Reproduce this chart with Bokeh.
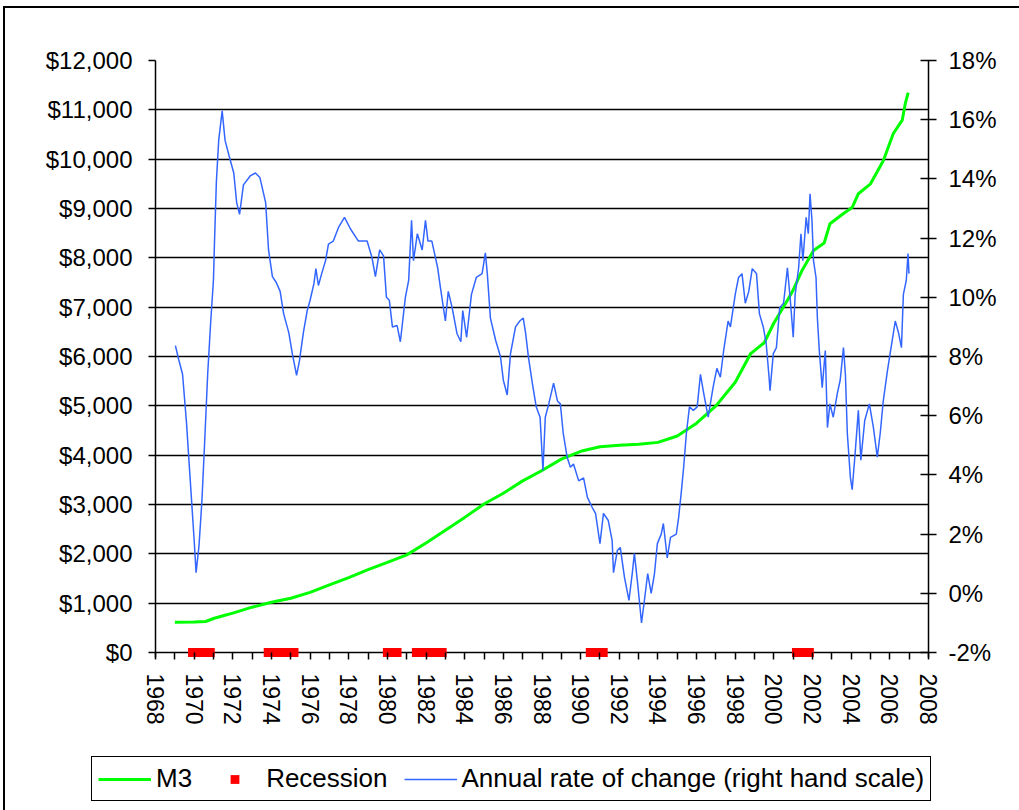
from bokeh.plotting import figure
from bokeh.layouts import column
from bokeh.models import (Range1d, LinearAxis, FixedTicker, NumeralTickFormatter,
                          PrintfTickFormatter, Legend, LegendItem)
from bokeh.embed import file_html
from bokeh.resources import INLINE

# ---------------- data ----------------
m3_year = [1969.0, 1970.0, 1970.6, 1971.0, 1971.5, 1972.0, 1973.0, 1974.0, 1975.0,
           1976.0, 1977.0, 1978.0, 1979.0, 1980.0, 1981.0, 1982.0, 1983.0, 1984.0,
           1985.0, 1986.0, 1987.0, 1988.0, 1989.0, 1990.0, 1991.0, 1992.0, 1993.0,
           1994.0, 1995.0, 1996.0, 1997.0, 1998.0, 1998.8, 1999.5, 2000.0, 2000.7,
           2001.0, 2001.45, 2002.05, 2002.6, 2002.9, 2003.6, 2004.05, 2004.37, 2005.0,
           2005.66, 2006.18, 2006.64, 2006.8, 2006.95]
m3_value = [615, 620, 630, 690, 745, 800, 920, 1020, 1100,
            1220, 1370, 1520, 1680, 1830, 1980, 2220, 2480, 2740,
            3010, 3230, 3480, 3690, 3920, 4080, 4170, 4200, 4220,
            4260, 4390, 4650, 5000, 5480, 6060, 6280, 6680, 7140,
            7350, 7740, 8150, 8300, 8690, 8900, 9020, 9300, 9500,
            9970, 10520, 10790, 11130, 11350]

rate_year = [1969.03, 1969.2, 1969.4, 1969.6, 1969.8, 1970.0, 1970.1, 1970.25, 1970.4, 1970.55,
             1970.7, 1970.85, 1971.0, 1971.05, 1971.15, 1971.27, 1971.45, 1971.6, 1971.8, 1972.05,
             1972.2, 1972.35, 1972.55, 1972.9, 1973.17, 1973.4, 1973.7, 1973.85, 1974.05, 1974.25,
             1974.45, 1974.63, 1974.9, 1975.08, 1975.3, 1975.45, 1975.65, 1975.85, 1976.0, 1976.2,
             1976.3, 1976.43, 1976.6, 1976.8, 1976.95, 1977.2, 1977.47, 1977.78, 1978.1, 1978.5,
             1978.95, 1979.2, 1979.38, 1979.6, 1979.8, 1979.95, 1980.1, 1980.26, 1980.5, 1980.67,
             1980.93, 1981.1, 1981.25, 1981.35, 1981.55, 1981.8, 1981.97, 1982.1, 1982.3, 1982.6,
             1982.75, 1983.0, 1983.15, 1983.35, 1983.6, 1983.8, 1983.9, 1984.1, 1984.35, 1984.6,
             1984.9, 1985.07, 1985.17, 1985.33, 1985.6, 1985.85, 1986.0, 1986.2, 1986.37, 1986.63,
             1986.85, 1987.03, 1987.15, 1987.3, 1987.5, 1987.7, 1987.9, 1988.05, 1988.17, 1988.35,
             1988.6, 1988.8, 1988.95, 1989.1, 1989.3, 1989.47, 1989.63, 1989.9, 1990.15, 1990.35,
             1990.6, 1990.77, 1991.0, 1991.18, 1991.43, 1991.63, 1991.7, 1991.9, 1992.05, 1992.27,
             1992.5, 1992.67, 1992.78, 1992.95, 1993.15, 1993.3, 1993.47, 1993.65, 1993.82, 1993.97,
             1994.17, 1994.28, 1994.48, 1994.65, 1994.95, 1995.07, 1995.2, 1995.33, 1995.47, 1995.63,
             1995.83, 1996.03, 1996.2, 1996.37, 1996.6, 1996.85, 1997.05, 1997.23, 1997.4, 1997.63,
             1997.75, 1998.0, 1998.17, 1998.35, 1998.52, 1998.7, 1998.88, 1999.1, 1999.25, 1999.45,
             1999.6, 1999.75, 1999.8, 1999.97, 2000.13, 2000.3, 2000.5, 2000.7, 2000.85, 2001.0,
             2001.1, 2001.28, 2001.4, 2001.5, 2001.67, 2001.78, 2001.87, 2001.97, 2002.05, 2002.18,
             2002.25, 2002.35, 2002.5, 2002.66, 2002.77, 2002.9, 2003.07, 2003.28, 2003.43, 2003.6,
             2003.7, 2003.8, 2003.96, 2004.05, 2004.2, 2004.37, 2004.5, 2004.7, 2004.94, 2005.15,
             2005.35, 2005.5, 2005.66, 2005.87, 2006.1, 2006.28, 2006.45, 2006.6, 2006.7, 2006.85,
             2006.94, 2006.99]
rate_pct = [8.37, 7.9, 7.4, 5.8, 3.8, 1.8, 0.7, 1.6, 3.1, 5.2,
            7.4, 9.1, 10.6, 11.8, 13.9, 15.3, 16.3, 15.3, 14.8, 14.2,
            13.2, 12.8, 13.8, 14.1, 14.2, 14.05, 13.2, 11.6, 10.7, 10.5,
            10.2, 9.45, 8.8, 8.1, 7.36, 7.86, 8.8, 9.55, 9.9, 10.47,
            10.97, 10.4, 10.8, 11.24, 11.8, 11.9, 12.36, 12.7, 12.3, 11.9,
            11.9, 11.35, 10.7, 11.6, 11.4, 10.0, 9.9, 9.0, 9.05, 8.5,
            10.0, 10.57, 12.6, 11.24, 12.15, 11.6, 12.6, 11.9, 11.9, 11.0,
            10.3, 9.2, 10.2, 9.65, 8.78, 8.5, 9.55, 8.65, 10.1, 10.67,
            10.8, 11.5, 10.8, 9.3, 8.55, 8.0, 7.2, 6.7, 8.1, 9.0,
            9.2, 9.3, 8.8, 7.97, 7.1, 6.3, 5.95, 4.15, 5.95, 6.4,
            7.1, 6.5, 6.4, 5.4, 4.6, 4.26, 4.37, 3.8, 3.9, 3.24,
            2.9, 2.7, 1.68, 2.7, 2.46, 1.78, 0.7, 1.45, 1.55, 0.53,
            -0.24, 0.67, 1.35, 0.33, -1.0, -0.24, 0.67, 0.0, 0.67, 1.68,
            2.0, 2.36, 1.2, 1.89, 2.0, 2.56, 3.37, 4.26, 5.4, 6.3,
            6.18, 6.3, 7.4, 6.75, 5.95, 6.95, 7.6, 7.3, 8.2, 9.2,
            9.0, 10.1, 10.67, 10.8, 9.8, 10.2, 10.97, 10.8, 9.45, 9.0,
            8.45, 7.3, 6.85, 8.1, 8.3, 9.65, 9.8, 11.0, 9.9, 8.65,
            10.1, 11.0, 12.15, 11.24, 12.7, 12.15, 13.5, 12.6, 11.24, 10.67,
            9.3, 8.2, 6.95, 8.2, 5.6, 6.4, 5.95, 6.75, 7.2, 8.3,
            7.4, 5.4, 3.9, 3.5, 4.7, 6.18, 4.5, 5.84, 6.4, 5.6,
            4.6, 5.4, 6.5, 7.5, 8.45, 9.2, 8.8, 8.3, 10.1, 10.57,
            11.48, 10.8]

# recessions: (year, month) of first and last month
recession_start = [(1969, 12), (1973, 11), (1980, 1), (1981, 7), (1990, 7), (2001, 3)]
recession_end = [(1970, 11), (1975, 3), (1980, 7), (1982, 11), (1991, 3), (2001, 11)]

left_ticks = list(range(0, 12001, 1000))
right_ticks = list(range(-2, 19, 2))
x_major = list(range(1968, 2009, 2))
x_minor = list(range(1969, 2008, 2))

legend_labels = ["M3", "Recession", "Annual rate of change (right hand scale)"]

# recession months as points on the $0 line
rec_x, rec_y = [], []
for (ys, ms), (ye, me) in zip(recession_start, recession_end):
    k0 = ys * 12 + (ms - 1)
    k1 = ye * 12 + (me - 1)
    for k in range(k0, k1 + 1):
        rec_x.append(k / 12.0)
        rec_y.append(0)

# ---------------- styles ----------------
FONT = "Liberation Sans"
GREEN, RED, BLUE = "#00FF00", "#FF0000", "#3366FF"


def draw_series(fig, **kw):
    a = fig.line(m3_year, m3_value, line_color=GREEN, line_width=3, **kw.get("m3", {}))
    b = fig.line(rate_year, rate_pct, line_color=BLUE, line_width=1.5, **kw.get("rate", {}))
    c = fig.scatter(rec_x, rec_y, marker="square", size=9, fill_color=RED, line_color=None)
    return a, c, b


# ---------------- main figure ----------------
ext = 100  # small extension below $0 so recession markers are not clipped
p = figure(frame_width=773, frame_height=597,
           x_range=Range1d(1968, 2008), y_range=Range1d(-ext, 12000),
           output_backend="svg", toolbar_location=None,
           min_border_left=150, min_border_right=91, min_border_top=52, min_border_bottom=90,
           background_fill_color="white", border_fill_color="white")
p.extra_y_ranges = {"pct": Range1d(-2 - ext / 600.0, 18)}
p.outline_line_color = None

p.xgrid.visible = False
p.ygrid.grid_line_color = "black"
p.ygrid.grid_line_width = 1.5

xa = p.xaxis[0]
xa.ticker = FixedTicker(ticks=x_major, minor_ticks=x_minor)
xa.axis_line_color = None
xa.major_tick_in = 5
xa.major_tick_out = 2
xa.minor_tick_in = 5
xa.minor_tick_out = 2
xa.major_tick_line_color = "black"
xa.minor_tick_line_color = "black"
xa.major_tick_line_width = 1.5
xa.minor_tick_line_width = 1.5
xa.major_label_orientation = "vertical"
xa.major_label_standoff = 14
xa.major_label_text_font = FONT
xa.major_label_text_font_size = "23px"
xa.major_label_text_color = "black"

ya = p.yaxis[0]
ya.ticker = FixedTicker(ticks=left_ticks)
ya.formatter = NumeralTickFormatter(format="$0,0")
ya.axis_line_color = "black"
ya.axis_line_width = 1.5
ya.major_tick_in = 0
ya.major_tick_out = 7
ya.major_tick_line_width = 1.5
ya.minor_tick_line_color = None
ya.major_label_standoff = 16
ya.major_label_text_font = FONT
ya.major_label_text_font_size = "24px"
ya.major_label_text_color = "black"

ra = LinearAxis(y_range_name="pct", ticker=FixedTicker(ticks=right_ticks),
                formatter=PrintfTickFormatter(format="%d%%"))
ra.axis_line_color = "black"
ra.axis_line_width = 1.5
ra.major_tick_in = 8
ra.major_tick_out = 8
ra.major_tick_line_width = 1.5
ra.minor_tick_line_color = None
ra.major_label_standoff = 12
ra.major_label_text_font = FONT
ra.major_label_text_font_size = "24px"
ra.major_label_text_color = "black"
p.add_layout(ra, "right")

draw_series(p, rate={"y_range_name": "pct"})

# ---------------- legend strip (same series, drawn outside its view) ----------------
main_h = 52 + 597 + 90
strip_h = 802 - main_h
lg = figure(frame_width=1014, frame_height=strip_h, output_backend="svg", toolbar_location=None,
            x_range=Range1d(0, 1), y_range=Range1d(0, 1),
            x_axis_location=None, y_axis_location=None,
            min_border_left=0, min_border_right=0, min_border_top=0, min_border_bottom=0,
            background_fill_color="white", border_fill_color="white")
lg.outline_line_color = None
lg.grid.visible = False
g_m3, g_rec, g_rate = draw_series(lg)

legend = Legend(items=[LegendItem(label=legend_labels[0], renderers=[g_m3]),
                       LegendItem(label=legend_labels[1], renderers=[g_rec]),
                       LegendItem(label=legend_labels[2], renderers=[g_rate])],
                orientation="horizontal", location=(86, 9),
                glyph_width=53, glyph_height=22, label_standoff=5, spacing=16,
                padding=6, margin=0,
                label_text_font=FONT, label_text_font_size="26px", label_text_color="black",
                border_line_color="black", border_line_width=1.5, border_line_alpha=1.0,
                background_fill_color="white", background_fill_alpha=1.0)
lg.add_layout(legend, "center")

layout = column(p, lg, spacing=0)
layout.styles = {"margin-left": "3px", "margin-top": "6px",
                 "border-left": "2px solid black", "border-top": "2px solid black"}

open("out.html", "w").write(file_html(layout, INLINE))
